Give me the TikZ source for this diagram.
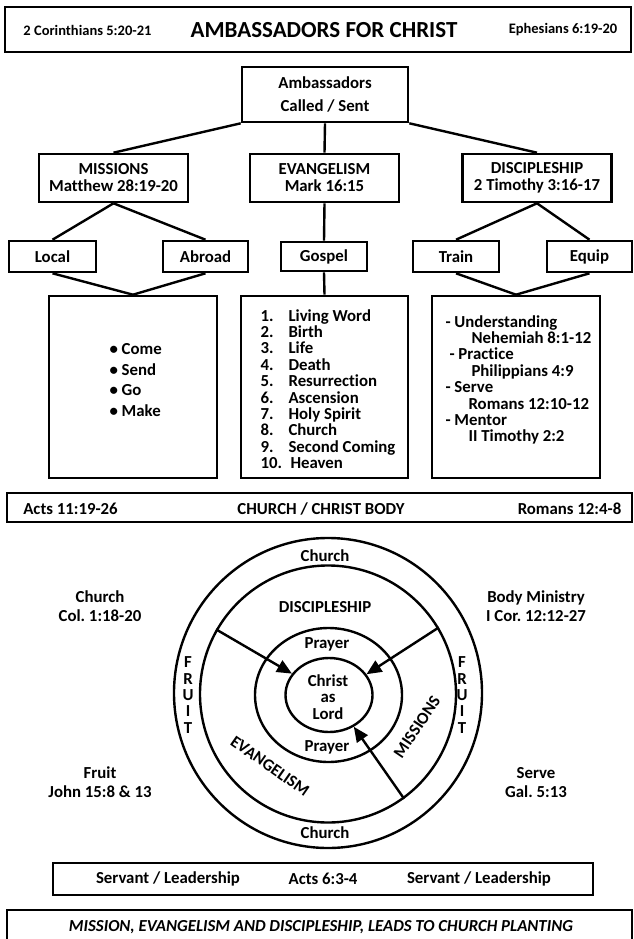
\documentclass[tikz,border=0pt]{standalone}
\usepackage{fontspec}
\setmainfont{Carlito}[Ligatures=NoCommon]
\usetikzlibrary{shapes.geometric}
\usetikzlibrary{arrows.meta}
\frenchspacing

\begin{document}
\begin{tikzpicture}[x=1pt,y=-1pt,
    every node/.style={font=\bfseries\fontsize{16.8}{17}\selectfont},
    box/.style={draw,line width=2.6pt,inner sep=0pt,align=center},
    wire/.style={line width=2.4pt},
    spoke/.style={line width=2.4pt,-{Triangle[length=15pt,width=13pt]}},
    small/.style={font=\bfseries\fontsize{14.5}{17}\selectfont},
    stack/.style={align=center,font=\bfseries\fontsize{16.8}{19}\selectfont}]
  \useasboundingbox (0,0) rectangle (633,939);

  % heading
  \node[box,minimum width=626,minimum height=45] (titlebar) at (318,29.5) {};
  \node[small] (cor) at (87.5,30) {2 Corinthians 5:20-21};
  \node[font=\bfseries\fontsize{23}{26}\selectfont] (maintitle) at (324,30) {AMBASSADORS FOR CHRIST};
  \node[small] (eph) at (563,30) {Ephesians 6:19-20};

  % tree
  \node[box,minimum width=166,minimum height=55,
        font=\bfseries\fontsize{16.8}{23}\selectfont] (amb) at (325,94.5) {Ambassadors\\Called / Sent};
  \node[box,minimum width=149,minimum height=48] (mis) at (113.5,178) {MISSIONS\\Matthew 28:19-20};
  \node[box,minimum width=149,minimum height=48] (eva) at (324.5,178) {EVANGELISM\\Mark 16:15};
  \node[box,minimum width=149,minimum height=48] (dis) at (537,178) {DISCIPLESHIP\\2 Timothy 3:16-17};

  \node[box,minimum width=87,minimum height=31] (local) at (52.5,256.5) {Local};
  \node[box,minimum width=85,minimum height=31] (abroad) at (205.5,256.5) {Abroad};
  \node[box,minimum width=86,minimum height=29] (gospel) at (324,256.5) {Gospel};
  \node[box,minimum width=86,minimum height=31] (train) at (456,256.5) {Train};
  \node[box,minimum width=85,minimum height=31] (equip) at (589.5,256.5) {Equip};

  \node[box,minimum width=168,minimum height=182] (sendbox) at (133,387) {};
  \node[box,minimum width=167,minimum height=182] (wordbox) at (324.5,387) {};
  \node[box,minimum width=168,minimum height=182] (growbox) at (516,387) {};

  \draw[wire] (amb.south west) -- (mis.north);
  \draw[wire] (amb.south) -- (eva.north);
  \draw[wire] (amb.south east) -- (dis.north);
  \draw[wire] (mis.south) -- (local.north);
  \draw[wire] (mis.south) -- (abroad.north);
  \draw[wire] (local.south) -- (sendbox.north);
  \draw[wire] (abroad.south) -- (sendbox.north);
  \draw[wire] (eva.south) -- (gospel.north);
  \draw[wire] (gospel.south) -- (wordbox.north);
  \draw[wire] (dis.south) -- (train.north);
  \draw[wire] (dis.south) -- (equip.north);
  \draw[wire] (train.south) -- (growbox.north);
  \draw[wire] (equip.south) -- (growbox.north);

  \node[anchor=west,align=left,font=\bfseries\fontsize{16.8}{20.7}\selectfont] (sendlist) at (106,380)
    {• Come\\• Send\\• Go\\• Make};
  \node[anchor=west,align=left,font=\bfseries\fontsize{16.8}{16.4}\selectfont] (wordlist) at (257,389)
    {\makebox[28pt][l]{1.}Living Word\\\makebox[28pt][l]{2.}Birth\\\makebox[28pt][l]{3.}Life\\
     \makebox[28pt][l]{4.}Death\\\makebox[28pt][l]{5.}Resurrection\\\makebox[28pt][l]{6.}Ascension\\
     \makebox[28pt][l]{7.}Holy Spirit\\\makebox[28pt][l]{8.}Church\\\makebox[28pt][l]{9.}Second Coming\\
     \makebox[30pt][l]{10.}Heaven};
  \node[anchor=west,align=left,font=\bfseries\fontsize{16.8}{16.4}\selectfont] (growlist) at (442,380)
    {- Understanding\\\hspace*{26pt}Nehemiah 8:1-12\\\hspace*{4pt}- Practice\\\hspace*{26pt}Philippians 4:9\\
     - Serve\\\hspace*{23pt}Romans 12:10-12\\- Mentor\\\hspace*{23pt}II Timothy 2:2};

  % church bar
  \node[box,minimum width=625,minimum height=29] (churchbar) at (319.5,507.5) {};
  \node (acts) at (70.5,509) {Acts 11:19-26};
  \node (body) at (321,509) {CHURCH / CHRIST BODY};
  \node (rom) at (569.5,509) {Romans 12:4-8};

  % circles
  \node[draw,wire,ellipse,minimum width=308,minimum height=310] (outer) at (328,693) {};
  \node[draw,wire,ellipse,minimum width=256,minimum height=257] (ring) at (328,694) {};
  \node[draw,wire,ellipse,minimum width=147,minimum height=134] (prayer) at (328.5,695) {};
  \node[draw,wire,ellipse,minimum width=87,minimum height=74] (core) at (329,695) {};

  \draw[spoke] (ring.150) -- (core.150);
  \draw[spoke] (ring.31) -- (core.29);
  \draw[spoke] (ring.-54) -- (core.-52);

  \node (churchtop) at (325,556) {Church};
  \node (churchbot) at (325,833) {Church};
  \node (disring) at (325,607) {DISCIPLESHIP};
  \node (prayertop) at (327,644) {Prayer};
  \node (prayerbot) at (327,747) {Prayer};
  \node[align=center,font=\bfseries\fontsize{16.8}{16.5}\selectfont] (lord) at (328,697) {Christ\\as\\Lord};
  \node[align=center,font=\bfseries\fontsize{16.8}{16.3}\selectfont] (fruitl) at (188,695) {F\\R\\U\\I\\T};
  \node[align=center,font=\bfseries\fontsize{16.8}{16.3}\selectfont] (fruitr) at (462,695) {F\\R\\U\\I\\T};
  \node[rotate=-35] (evaring) at (270,766) {EVANGELISM};
  \node[rotate=56] (misring) at (417,727) {MISSIONS};

  \node[stack] (col) at (100,606.5) {Church\\Col. 1:18-20};
  \node[stack] (cor12) at (536,606.5) {Body Ministry\\I Cor. 12:12-27};
  \node[stack] (john) at (100,782.5) {Fruit\\John 15:8 \& 13};
  \node[stack] (gal) at (536,783) {Serve\\Gal. 5:13};

  % bottom bars
  \node[box,minimum width=540,minimum height=32] (servbar) at (323,879) {};
  \node (serv1) at (168,879) {Servant / Leadership};
  \node (acts6) at (323,879) {Acts 6:3-4};
  \node (serv2) at (479,879) {Servant / Leadership};

  \node[box,minimum width=625,minimum height=50] (plantbar) at (319.5,935) {};
  \node[font=\bfseries\itshape\fontsize{16.8}{17}\selectfont] (planting) at (321,927)
    {MISSION, EVANGELISM AND DISCIPLESHIP, LEADS TO CHURCH PLANTING};
\end{tikzpicture}
\end{document}
